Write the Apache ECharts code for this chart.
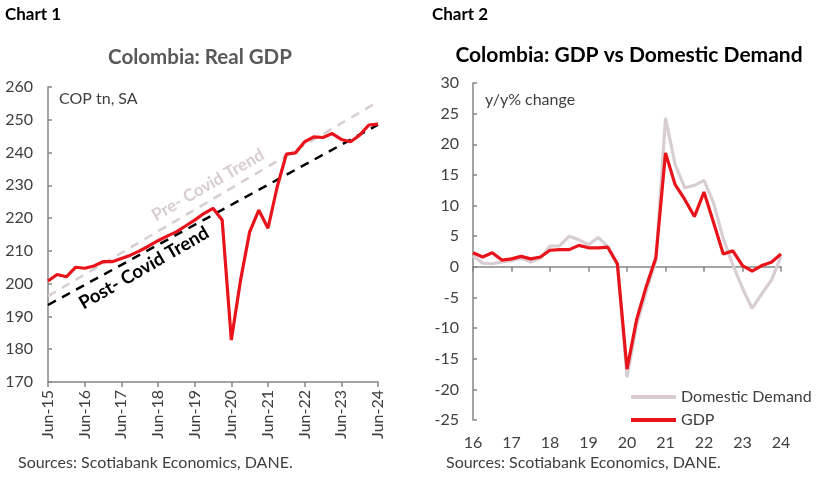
<!DOCTYPE html>
<html><head><meta charset="utf-8">
<script src="https://cdn.jsdelivr.net/npm/echarts@6/dist/echarts.min.js"></script>
<style>html,body{margin:0;padding:0;background:#fff}#c{width:828px;height:483px}</style>
</head><body><div id="c"></div>
<script>
// ---------- Chart 1 data ----------
const quarters1 = ["Jun-15","Sep-15","Dec-15","Mar-16","Jun-16","Sep-16","Dec-16","Mar-17","Jun-17","Sep-17","Dec-17","Mar-18","Jun-18","Sep-18","Dec-18","Mar-19","Jun-19","Sep-19","Dec-19","Mar-20","Jun-20","Sep-20","Dec-20","Mar-21","Jun-21","Sep-21","Dec-21","Mar-22","Jun-22","Sep-22","Dec-22","Mar-23","Jun-23","Sep-23","Dec-23","Mar-24","Jun-24"];
const realGDP = [200.8,202.8,202.1,205.0,204.7,205.4,206.7,206.7,207.7,208.7,210.0,211.5,213.1,214.5,215.8,217.6,219.4,221.4,223.0,219.4,182.8,201.0,215.8,222.4,216.9,229.5,239.5,239.9,243.3,244.8,244.6,245.8,244.0,243.3,245.3,248.4,248.7];
const preCovidTrend = [196.2, 255.5];   // at Jun-15 and Jun-24
const postCovidTrend = [193.5, 248.5];  // at Jun-15 and Jun-24

// ---------- Chart 2 data ----------
const quarters2 = ["Q1-16","Q2-16","Q3-16","Q4-16","Q1-17","Q2-17","Q3-17","Q4-17","Q1-18","Q2-18","Q3-18","Q4-18","Q1-19","Q2-19","Q3-19","Q4-19","Q1-20","Q2-20","Q3-20","Q4-20","Q1-21","Q2-21","Q3-21","Q4-21","Q1-22","Q2-22","Q3-22","Q4-22","Q1-23","Q2-23","Q3-23","Q4-23","Q1-24"];
const yearTicks2 = ["16","17","18","19","20","21","22","23","24"];
const gdpYoY = [2.3,1.6,2.3,1.1,1.3,1.7,1.3,1.6,2.7,2.8,2.8,3.5,3.1,3.1,3.2,0.5,-16.7,-8.6,-3.2,1.5,18.6,13.4,11.0,8.2,12.2,7.2,2.1,2.6,0.2,-0.7,0.2,0.75,2.1];
const domDemand = [1.8,0.6,0.5,0.8,1.0,1.4,0.8,1.4,3.4,3.4,5.0,4.4,3.6,4.8,3.3,0.3,-18.0,-9.5,-4.0,1.0,24.3,16.7,12.9,13.3,14.1,10.4,4.6,0.3,-3.5,-6.8,-4.4,-2.2,1.7];

const RED = '#e8131b', DD = '#d8cdd3', AX = '#868686', TXT = '#404040';
const FONT = 'Lato';
const FS = 16;

const chart = echarts.init(document.getElementById('c'));
chart.setOption({
  animation: false,
  textStyle: {fontFamily: FONT},
  grid: [
    {left: 48, top: 87, width: 330, height: 295},
    {left: 473, top: 83, width: 308, height: 337}
  ],
  xAxis: [
    {gridIndex: 0, type: 'category', data: quarters1, boundaryGap: false,
     axisLine: {lineStyle: {color: AX, width: 1.5}},
     axisTick: {interval: 3, length: 5, lineStyle: {color: AX, width: 1.5}},
     axisLabel: {interval: 3, rotate: 90, color: TXT, fontSize: FS, fontFamily: FONT, margin: 8}},
    {gridIndex: 1, type: 'category', data: quarters2, boundaryGap: false,
     axisLine: {onZero: true, lineStyle: {color: AX, width: 1.5}},
     axisTick: {interval: 3, length: 5, lineStyle: {color: AX, width: 1.5}},
     axisLabel: {show: false}},
    {gridIndex: 1, type: 'category', data: quarters2, boundaryGap: false, position: 'bottom',
     axisLine: {show: false, onZero: false}, axisTick: {show: false},
     axisLabel: {interval: 0, color: TXT, fontSize: FS, fontFamily: FONT, margin: 15,
       formatter: (v, i) => (i % 4 === 0 ? yearTicks2[i / 4] : '')}}
  ],
  yAxis: [
    {gridIndex: 0, type: 'value', min: 170, max: 260, interval: 10,
     splitLine: {show: false},
     axisLine: {show: true, lineStyle: {color: AX, width: 1.5}},
     axisTick: {show: true, inside: true, length: 4, lineStyle: {color: AX, width: 1.5}},
     axisLabel: {color: TXT, fontSize: FS, fontFamily: FONT, margin: 15}},
    {gridIndex: 1, type: 'value', min: -25, max: 30, interval: 5,
     splitLine: {show: false},
     axisLine: {show: true, onZero: false, lineStyle: {color: AX, width: 1.5}},
     axisTick: {show: true, inside: true, length: 4, lineStyle: {color: AX, width: 1.5}},
     axisLabel: {color: TXT, fontSize: FS, fontFamily: FONT, margin: 14}}
  ],
  legend: {
    left: 626, top: 383, orient: 'vertical', itemWidth: 45, itemHeight: 4, itemGap: 5,
    icon: 'rect',
    data: ['Domestic Demand', 'GDP'],
    textStyle: {color: TXT, fontSize: FS, fontFamily: FONT, lineHeight: 18, padding: [0, 0, 0, 0]}
  },
  series: [
    {name: 'preTrend', type: 'line', xAxisIndex: 0, yAxisIndex: 0, symbol: 'none',
     data: [[quarters1[0], preCovidTrend[0]], [quarters1[quarters1.length - 1], preCovidTrend[1]]],
     lineStyle: {color: DD, width: 2.5, type: [9, 7]}},
    {name: 'postTrend', type: 'line', xAxisIndex: 0, yAxisIndex: 0, symbol: 'none',
     data: [[quarters1[0], postCovidTrend[0]], [quarters1[quarters1.length - 1], postCovidTrend[1]]],
     lineStyle: {color: '#000', width: 2.5, type: [9, 7]}},
    {name: 'Real GDP', type: 'line', xAxisIndex: 0, yAxisIndex: 0, symbol: 'none',
     data: realGDP, lineStyle: {color: RED, width: 3.2}, itemStyle: {color: RED}},
    {name: 'Domestic Demand', type: 'line', xAxisIndex: 1, yAxisIndex: 1, symbol: 'none',
     data: domDemand, lineStyle: {color: DD, width: 3.2}, itemStyle: {color: DD}},
    {name: 'GDP', type: 'line', xAxisIndex: 1, yAxisIndex: 1, symbol: 'none',
     data: gdpYoY, lineStyle: {color: RED, width: 3.2}, itemStyle: {color: RED}}
  ],
  graphic: [
    {type: 'text', left: 5, top: 6, style: {text: 'Chart 1', fontFamily: FONT, fontWeight: 'bold', fontSize: 17, fill: '#000'}},
    {type: 'text', left: 432, top: 6, style: {text: 'Chart 2', fontFamily: FONT, fontWeight: 'bold', fontSize: 17, fill: '#000'}},
    {type: 'text', x: 200, y: 57, style: {text: 'Colombia: Real GDP', fontFamily: FONT, fontWeight: 'bold', fontSize: 20.5, fill: '#595959', align: 'center', verticalAlign: 'middle'}},
    {type: 'text', x: 629, y: 55, style: {text: 'Colombia: GDP vs Domestic Demand', fontFamily: FONT, fontWeight: 'bold', fontSize: 21, fill: '#000', align: 'center', verticalAlign: 'middle'}},
    {type: 'text', x: 59, y: 99, style: {text: 'COP tn, SA', fontFamily: FONT, fontSize: FS, fill: TXT, verticalAlign: 'middle'}},
    {type: 'text', x: 485, y: 100, style: {text: 'y/y% change', fontFamily: FONT, fontSize: FS, fill: TXT, verticalAlign: 'middle'}},
    {type: 'text', x: 208, y: 185, rotation: 30 * Math.PI / 180, style: {text: 'Pre- Covid Trend', fontFamily: FONT, fontWeight: 'bold', fontSize: 17, fill: '#d9cdd3', align: 'center', verticalAlign: 'middle'}},
    {type: 'text', x: 144, y: 268, rotation: 30 * Math.PI / 180, style: {text: 'Post- Covid Trend', fontFamily: FONT, fontWeight: 'bold', fontSize: 18.5, fill: '#000', align: 'center', verticalAlign: 'middle'}},
    {type: 'text', x: 18, y: 463, style: {text: 'Sources: Scotiabank Economics, DANE.', fontFamily: FONT, fontSize: FS, fill: TXT, verticalAlign: 'middle'}},
    {type: 'text', x: 446, y: 463, style: {text: 'Sources: Scotiabank Economics, DANE.', fontFamily: FONT, fontSize: FS, fill: TXT, verticalAlign: 'middle'}}
  ]
});
</script></body></html>
